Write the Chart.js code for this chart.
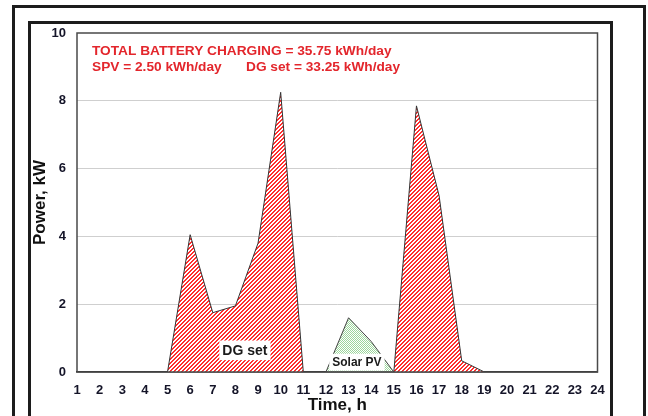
<!DOCTYPE html>
<html>
<head>
<meta charset="utf-8">
<script src="https://cdn.jsdelivr.net/npm/chart.js@4/dist/chart.umd.min.js"></script>
<style>
  body { margin: 0; background: #fff; overflow: hidden; }
  #wrap { position: relative; width: 648px; height: 416px; overflow: hidden; }
  .frame { position: absolute; box-sizing: border-box; border: 3px solid #1c1c1c; height: 600px; }
  #outer { left: 12px; top: 5px; width: 634px; }
  #inner { left: 28px; top: 21px; width: 585px; }
  canvas { position: absolute; left: 0; top: 0; }
</style>
</head>
<body>
<div id="wrap">
  <div class="frame" id="outer"></div>
  <div class="frame" id="inner"></div>
  <canvas id="PowerChart" width="648" height="416"></canvas>
</div>
<script>
const hours = [1, 2, 3, 4, 5, 6, 7, 8, 9, 10, 11, 12, 13, 14, 15, 16, 17, 18, 19, 20, 21, 22, 23, 24];
const dgPower = [0, 0, 0, 0, 0, 4.05, 1.75, 1.95, 3.8, 8.25, 0, 0, 0, 0, 0, 7.85, 5.2, 0.33, 0, 0, 0, 0, 0, 0];
const spvPower = [null, null, null, null, null, null, null, null, null, null, null, 0, 1.6, 0.9, 0, null, null, null, null, null, null, null, null, null];
const yTicks = [0, 2, 4, 6, 8, 10];
const headerLines = ['TOTAL BATTERY CHARGING = 35.75 kWh/day', 'SPV = 2.50 kWh/day', 'DG set = 33.25 kWh/day'];

// pixel hatch tiles, 4x4
function makeTile(isInk, ink) {
    const c = document.createElement('canvas');
    c.width = 4; c.height = 4;
    const g = c.getContext('2d');
    g.fillStyle = '#fff';
    g.fillRect(0, 0, 4, 4);
    g.fillStyle = ink;
    for (let px = 0; px < 4; px++) {
        for (let py = 0; py < 4; py++) {
            if (isInk(px, py)) g.fillRect(px, py, 1, 1);
        }
    }
    return g.createPattern(c, 'repeat');
}
const redHatch = () => makeTile((px, py) => (px + py) % 4 < 2, '#ff2e2e');
const greenHatch = () => makeTile((px, py) => (px + py) % 2 === 0, '#9cd69c');

const toPoints = arr => hours.map((h, i) => ({x: h, y: arr[i]}));

const labelsPlugin = {
    id: 'labels',
    afterDatasetsDraw(chart) {
        const {ctx, chartArea, scales} = chart;
        const x = scales.x, y = scales.y;
        ctx.save();
        // plot box
        ctx.strokeStyle = '#4a4a4a';
        ctx.lineWidth = 1.5;
        ctx.strokeRect(chartArea.left, chartArea.top, chartArea.right - chartArea.left, chartArea.bottom - chartArea.top);

        // header text
        ctx.fillStyle = '#e3262c';
        ctx.font = 'bold 13.7px "Liberation Sans", Arial, sans-serif';
        ctx.textBaseline = 'middle';
        ctx.textAlign = 'left';
        ctx.fillText(headerLines[0], chartArea.left + 15, 51.5);
        ctx.fillText(headerLines[1], chartArea.left + 15, 67.5);
        ctx.fillText(headerLines[2], chartArea.left + 169, 67.5);

        // series labels with white boxes
        function tag(text, vx, vy, size) {
            ctx.font = 'bold ' + size + 'px "Liberation Sans", Arial, sans-serif';
            const px = x.getPixelForValue(vx), py = y.getPixelForValue(vy);
            const w = ctx.measureText(text).width;
            ctx.fillStyle = '#fff';
            ctx.fillRect(px - w / 2 - 3, py - size * 0.7, w + 6, size * 1.4);
            ctx.fillStyle = '#1a1a1a';
            ctx.textAlign = 'center';
            ctx.fillText(text, px, py + 0.5);
        }
        tag('DG set', 8.42, 0.64, 14);
        tag('Solar PV', 13.37, 0.29, 12);
        ctx.restore();
    }
};

const ctxPower = document.getElementById('PowerChart');
const dataPower = {
    datasets: [
        {
            label: 'DG set',
            data: toPoints(dgPower),
            borderColor: '#333',
            borderWidth: 1,
            backgroundColor: redHatch(),
            fill: 'origin',
            pointRadius: 0,
            tension: 0
        },
        {
            label: 'Solar PV',
            data: toPoints(spvPower),
            borderColor: '#444',
            borderWidth: 1,
            backgroundColor: greenHatch(),
            fill: 'origin',
            pointRadius: 0,
            tension: 0,
            spanGaps: false
        }
    ]
};
const configPower = {
    type: 'line',
    data: dataPower,
    options: {
        responsive: false,
        animation: false,
        layout: { padding: { left: 28, top: 33, right: 50.5, bottom: 0 } },
        plugins: { legend: { display: false }, tooltip: { enabled: false } },
        scales: {
            x: {
                type: 'linear',
                min: 1,
                max: 24,
                afterFit: s => { s.height = 44; },
                afterBuildTicks: s => { s.ticks = hours.map(h => ({value: h})); },
                grid: { display: false },
                border: { display: true, color: '#222', width: 1.5 },
                ticks: {
                    padding: 3,
                    color: '#141428',
                    font: { family: '"Liberation Sans", Arial, sans-serif', size: 13, weight: 'bold' }
                },
                title: {
                    display: true,
                    text: 'Time, h',
                    color: '#111',
                    padding: { top: 0, bottom: 0 },
                    font: { family: '"Liberation Sans", Arial, sans-serif', size: 17, weight: 'bold' }
                }
            },
            y: {
                min: 0,
                max: 10,
                afterFit: s => { s.width = 49; },
                afterBuildTicks: s => { s.ticks = yTicks.map(v => ({value: v})); },
                grid: {
                    color: c => (c.tick.value === 0 || c.tick.value === 10) ? 'rgba(0,0,0,0)' : '#cfcfcf',
                    lineWidth: 1,
                    tickLength: 0
                },
                border: { display: false },
                ticks: {
                    padding: 11,
                    color: '#141428',
                    font: { family: '"Liberation Sans", Arial, sans-serif', size: 13, weight: 'bold' }
                },
                title: {
                    display: true,
                    text: 'Power, kW',
                    color: '#111',
                    padding: { top: 2, bottom: 0 },
                    font: { family: '"Liberation Sans", Arial, sans-serif', size: 17, weight: 'bold' }
                }
            }
        }
    },
    plugins: [labelsPlugin]
};
new Chart(ctxPower, configPower);
</script>
</body>
</html>
